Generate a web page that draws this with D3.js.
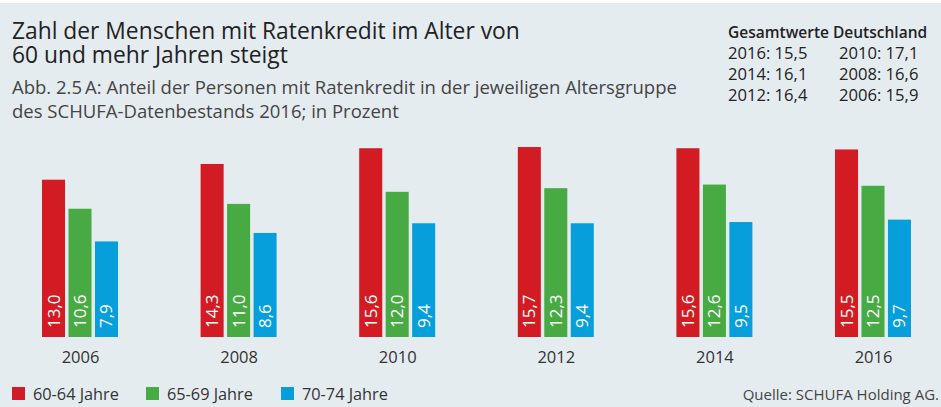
<!DOCTYPE html>
<html>
<head>
<meta charset="utf-8">
<script src="https://cdn.jsdelivr.net/npm/d3@7"></script>
<style>
  html, body { margin: 0; padding: 0; background: #ffffff; }
  svg { display: block; font-family: "Open Sans", sans-serif; }
</style>
</head>
<body>
<div id="chart"></div>
<script>
// Daten
const jahre = ['2006', '2008', '2010', '2012', '2014', '2016'];
const gruppen = ['60-64 Jahre', '65-69 Jahre', '70-74 Jahre'];
const werte6064 = [13.0, 14.3, 15.6, 15.7, 15.6, 15.5];
const werte6569 = [10.6, 11.0, 12.0, 12.3, 12.6, 12.5];
const werte7074 = [7.9, 8.6, 9.4, 9.4, 9.5, 9.7];
const gesamtJahre = ['2016', '2014', '2012', '2010', '2008', '2006'];
const gesamtWerte = [15.5, 16.1, 16.4, 17.1, 16.6, 15.9];

const farben = ['#d21b22', '#47aa43', '#079fdb'];
const reihen = [werte6064, werte6569, werte7074];
const komma = v => d3.format('.1f')(v).replace('.', ',');

const breite = 941, hoehe = 407;
const basis = 337;

const svg = d3.select('#chart')
  .append('svg')
  .attr('width', breite)
  .attr('height', hoehe);

// Hintergrund
svg.append('rect')
  .attr('x', 0).attr('y', 3)
  .attr('width', breite).attr('height', hoehe - 3)
  .attr('fill', '#e5ecf0');

// Titel (zwei Zeilen in einem Text)
const titel = svg.append('text')
  .attr('fill', '#222')
  .style('font-size', '22.8px');
titel.append('tspan').attr('x', 12).attr('y', 39)
  .text('Zahl der Menschen mit Ratenkredit im Alter von');
titel.append('tspan').attr('x', 12).attr('y', 63)
  .text('60 und mehr Jahren steigt');

const unter = svg.append('text')
  .attr('fill', '#444')
  .style('font-size', '18.5px');
unter.append('tspan').attr('x', 12).attr('y', 94)
  .text('Abb. 2.5\u2009A: Anteil der Personen mit Ratenkredit in der jeweiligen Altersgruppe');
unter.append('tspan').attr('x', 12).attr('y', 118)
  .text('des SCHUFA-Datenbestands 2016; in Prozent');

// Gesamtwerte
svg.append('text')
  .attr('x', 728).attr('y', 38)
  .attr('fill', '#222')
  .style('font-size', '15.5px')
  .style('font-weight', 600)
  .text('Gesamtwerte Deutschland');
svg.selectAll('.gesamt')
  .data(gesamtJahre)
  .enter()
  .append('text')
  .attr('class', 'gesamt')
  .attr('x', (d, i) => i < 3 ? 728 : 839)
  .attr('y', (d, i) => 59 + (i % 3) * 21)
  .attr('fill', '#222')
  .style('font-size', '16.6px')
  .text((d, i) => d + ': ' + komma(gesamtWerte[i]));

// Skalen
const x = d3.scalePoint()
  .domain(jahre)
  .range([0.7, 952.3])
  .padding(0.5);

const xInnen = d3.scaleBand()
  .domain(gruppen)
  .range([-38, 38])
  .paddingInner(0.13);

const y = d3.scaleLinear()
  .domain([0, 16])
  .range([basis, basis - 16 * 12.1]);

// Balken
const gruppe = svg.selectAll('.jahr')
  .data(jahre)
  .enter()
  .append('g')
  .attr('class', 'jahr')
  .attr('transform', d => `translate(${x(d)},0)`);

gruppe.selectAll('rect')
  .data((d, i) => gruppen.map((g, k) => ({ g, k, v: reihen[k][i] })))
  .enter()
  .append('rect')
  .attr('x', d => xInnen(d.g))
  .attr('y', d => y(d.v))
  .attr('width', xInnen.bandwidth())
  .attr('height', d => y(0) - y(d.v))
  .attr('fill', d => farben[d.k]);

gruppe.selectAll('.wert')
  .data((d, i) => gruppen.map((g, k) => ({ g, k, v: reihen[k][i] })))
  .enter()
  .append('text')
  .attr('class', 'wert')
  .attr('transform', d => `translate(${xInnen(d.g) + xInnen.bandwidth() / 2 + 6},${basis - 9}) rotate(-90)`)
  .attr('fill', '#fff')
  .style('font-size', '17px')
  .text(d => komma(d.v));

// X-Achse
const achse = svg.append('g')
  .attr('transform', `translate(0,${basis})`)
  .call(d3.axisBottom(x).tickSize(0).tickPadding(14));
achse.select('.domain').remove();
achse.selectAll('text')
  .attr('fill', '#333')
  .style('font-family', '"Open Sans", sans-serif')
  .style('font-size', '16.5px');

// Legende
const legX = [12, 146, 281];
const legende = svg.selectAll('.legende')
  .data(gruppen)
  .enter()
  .append('g')
  .attr('class', 'legende')
  .attr('transform', (d, i) => `translate(${legX[i]},387)`);
legende.append('rect')
  .attr('width', 13).attr('height', 13)
  .attr('fill', (d, i) => farben[i]);
legende.append('text')
  .attr('x', 21).attr('y', 13)
  .attr('fill', '#333')
  .style('font-size', '16.3px')
  .text(d => d);

// Quelle
svg.append('text')
  .attr('x', 939).attr('y', 400)
  .attr('text-anchor', 'end')
  .attr('fill', '#444')
  .style('font-size', '15px')
  .text('Quelle: SCHUFA Holding AG.');
</script>
</body>
</html>
